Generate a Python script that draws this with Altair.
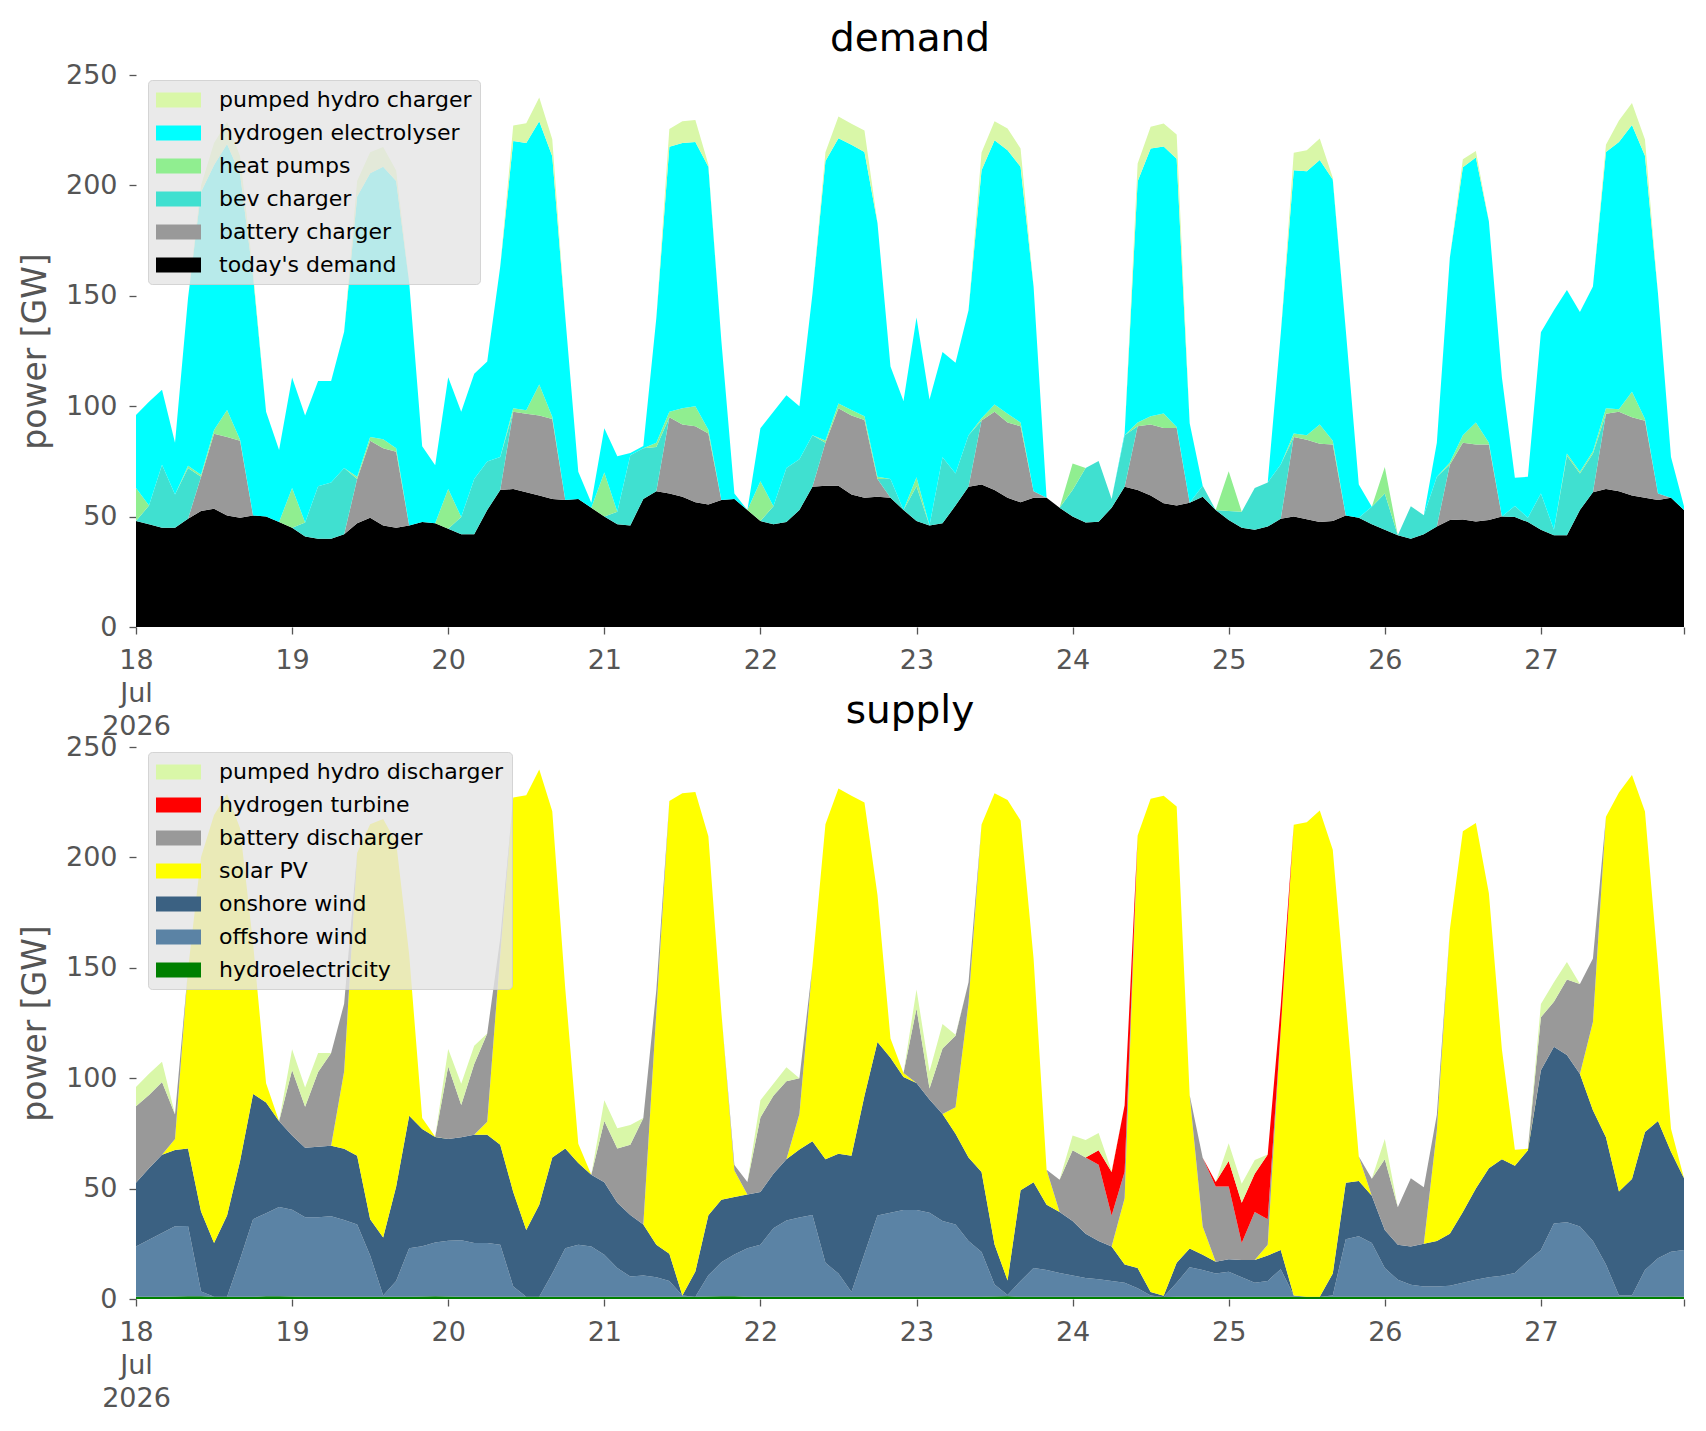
import json

import altair as alt
import pandas as pd

FONT = "DejaVu Sans"
GREY = "#555555"

# 2-hourly samples, 18 Jul 2026 00:00 .. 27 Jul 2026 22:00 (hours since start)
hours = list(range(0, 240, 2))

tick_hours = [0, 24, 48, 72, 96, 120, 144, 168, 192, 216, 238]
tick_labels = [["18", "Jul", "2026"], "19", "20", "21", "22", "23", "24", "25", "26", "27", ""]

# ---------------- demand side [GW] ----------------
todays_demand = [
    48, 46.5, 45, 45, 49, 52.5, 53.5, 50.5, 49.5, 50.5, 50, 47.5,
    45, 41, 40, 40, 42, 47, 49.5, 46, 45, 46, 47.5, 47,
    44.5, 42, 42, 53, 62, 62.5, 61, 59.5, 58, 57.5, 58, 54,
    50, 46.5, 46, 58, 61.5, 60.5, 59, 56.5, 55.5, 57.5, 58, 53,
    48, 46.5, 47.5, 53, 63.5, 64, 64, 60, 58.5, 59, 58.5, 53,
    48, 46, 47, 55, 63.5, 64.5, 62, 58.5, 56.5, 58.5, 58.5, 54,
    50, 47.3, 47.7, 54, 63.5, 62, 59.5, 56, 55, 56.3, 59, 53,
    48.5, 45, 44, 45.5, 49, 50, 48.8, 47.5, 48, 50.5, 49.5, 46.5,
    44, 41.5, 40, 42, 45.5, 48.5, 48.7, 47.8, 48.5, 50.1, 49.8, 47.5,
    44, 41.6, 41.6, 53, 61, 62.5, 61.5, 59.5, 58.5, 57.5, 58.5, 53,
]
battery_charger = [
    0, 0, 0, 0, 0, 15.5, 34, 35.5, 34.8, 0, 0, 0,
    0, 0, 0, 0, 0, 20, 34.8, 35, 34.4, 0, 0, 0,
    0, 0, 0, 0, 0, 35, 35.6, 36.3, 36.2, 0, 0, 0,
    0, 0, 0, 0, 0, 34.5, 32.7, 34.4, 32.1, 0, 0, 0,
    0, 0, 0, 0, 0, 19.5, 35.1, 35.8, 35.2, 8, 0, 0,
    0, 0, 0, 0, 0, 29, 35.5, 34.1, 34.4, 3, 0, 0,
    0, 0, 0, 0, 0, 28.9, 32.2, 34.1, 35.1, 0, 0, 0,
    0, 0, 0, 0, 0, 36, 36, 35.5, 34.7, 0, 0, 0,
    0, 0, 0, 0, 0, 25, 34.8, 34.9, 34.2, 0, 0, 0,
    0, 0, 0, 0, 0, 34.1, 36, 35.5, 34.9, 3, 0, 0,
]
bev_charger = [
    0, 8.5, 28.5, 15, 23, 0, 0, 0, 0, 0, 0, 0,
    0, 6.3, 23.8, 25.4, 30, 0, 0, 0, 0, 0, 0, 0,
    0, 7.8, 25, 22, 15, 0, 0, 0, 0, 0, 0, 0,
    0, 5.7, 31.8, 23, 20, 0, 0, 0, 0, 0, 0, 0,
    0, 8.2, 24.5, 23, 23.3, 0, 0, 0, 0, 0, 8.5, 0,
    15.8, 0, 29.9, 14.5, 23.3, 0, 0, 0, 0, 0, 0, 0,
    12, 24.7, 27.5, 4, 23.3, 0, 0, 0, 0, 0, 5, 0,
    4, 7.2, 19, 20, 24.6, 0, 0, 0, 0, 0, 0, 8,
    16.5, 0, 14.7, 8.6, 22.5, 0, 0, 0, 0, 0, 5, 2,
    16.5, 2.4, 36, 16.5, 17.6, 0, 0, 0, 0, 0, 0, 0,
]
heat_pumps = [
    15, 0, 0, 0, 1, 1, 1.7, 12.3, 0.5, 0, 0, 0,
    18, 0, 0, 0, 0, 1, 1.7, 4, 1.6, 0, 0, 0,
    18, 0, 0, 0, 0, 1.6, 1.6, 14, 1, 0, 0, 0,
    20, 0, 0, 0, 2, 2.5, 7.4, 9.1, 1.7, 0, 0, 0,
    18, 0, 0, 0, 0, 1, 2.1, 2.5, 1.7, 1, 0, 0,
    4, 0, 0, 0, 0, 1, 3.3, 4, 1.7, 0, 0, 0,
    12, 0, 0, 0, 0, 1.7, 3.7, 6.6, 0.5, 0, 0, 0,
    18, 0, 0, 0, 0, 1.6, 2, 8.7, 1.6, 0, 0, 0,
    12, 0, 0, 0, 0, 1, 3.3, 9.9, 0.8, 0, 0, 0,
    0, 0, 1, 0.8, 1, 2.5, 1.1, 11.5, 0.8, 0, 0, 0,
]
hydrogen_electrolyser = [
    33, 47, 34, 23.5, 76, 128, 120, 120.4, 120.4, 108.5, 47.5, 32.7,
    50, 48.5, 47.6, 46, 61.7, 127, 119.5, 123.4, 121, 110, 34.4, 26.3,
    50.6, 47.7, 47.7, 45.3, 86.3, 121, 121, 119.2, 118, 83, 12.3, 2.3,
    20, 25.1, 1, 1, 56.5, 120, 120.1, 119.7, 119.2, 72, 2.5, 0,
    24, 42.8, 33, 24, 64, 126.5, 120.1, 120.1, 119.7, 115, 51, 49.4,
    72.4, 57, 47.7, 50.2, 56.7, 112.4, 119.6, 119.3, 115.9, 92.7, 0, 0,
    0, 0, 0, 0, 1, 109.3, 121.3, 120.9, 121.5, 36, 0, 0,
    0, 0, 0, 0, 59.2, 119.3, 119.6, 119.8, 118.4, 84, 15, 0,
    0, 0, 0, 0, 15.5, 92.8, 121.4, 120, 100.3, 63, 12.8, 18.5,
    73, 99.5, 74, 72.4, 74.6, 116, 121.1, 120.9, 119.2, 90.5, 18.5, 1.7,
]
pumped_hydro_charger = [
    0, 0, 0, 0, 0, 3, 10, 10, 8, 2, 0, 0,
    0, 0, 0, 0, 0, 7, 9.5, 9, 4.8, 0, 0, 0,
    0, 0, 0, 0, 0, 7, 9, 10.8, 7.7, 0, 0, 0,
    0, 0, 0, 0, 0, 8, 9.8, 9.9, 1, 0, 0, 0,
    0, 0, 0, 0, 0, 4, 9.9, 9.5, 9.8, 0, 0, 0,
    0, 0, 0, 0, 0, 8, 8.6, 9.9, 8.2, 0, 0, 0,
    0, 0, 0, 0, 0, 8, 9.9, 10.4, 11, 0, 0, 0,
    0, 0, 0, 0, 0, 7.9, 9.5, 9.7, 0.8, 0, 0, 0,
    0, 0, 0, 0, 0, 0, 3.6, 3, 0, 0, 0, 0,
    0, 0, 0, 0, 0, 3.3, 9.7, 9.9, 7.4, 0, 0, 0,
]

# ---------------- supply side [GW] ----------------
hydroelectricity = [
    1.0, 1.0, 1.0, 1.1, 1.3, 1.2, 1.0, 1.0, 1.0, 1.0, 1.2, 1.3,
    1.1, 1.0, 1.0, 1.0, 1.0, 1.0, 1.0, 1.0, 1.0, 1.0, 1.1, 1.2,
    1.1, 1.0, 1.0, 1.0, 1.0, 1.0, 1.0, 1.0, 1.0, 1.0, 1.0, 1.0,
    1.0, 1.0, 1.0, 1.0, 1.0, 1.0, 1.0, 1.0, 1.1, 1.2, 1.2, 1.0,
    1.0, 1.0, 1.0, 1.0, 1.0, 1.0, 1.0, 1.0, 1.0, 1.0, 1.0, 1.0,
    1.0, 1.0, 1.0, 1.0, 1.0, 1.0, 1.1, 1.2, 1.0, 1.0, 1.0, 1.0,
    1.0, 1.0, 1.0, 1.0, 1.0, 1.0, 1.0, 0.9, 1.0, 1.0, 1.0, 1.0,
    1.0, 1.0, 1.0, 1.0, 1.0, 1.0, 1.0, 1.0, 1.0, 1.0, 1.0, 1.0,
    1.0, 1.0, 1.0, 1.0, 1.0, 1.0, 1.0, 1.0, 1.0, 1.0, 1.0, 1.0,
    1.0, 1.0, 1.0, 1.0, 1.0, 1.0, 1.0, 1.0, 1.0, 1.0, 1.1, 1.0,
]
offshore_wind = [
    22.8, 25.8, 28.9, 31.8, 31.8, 2.2, 0, 0, 17, 35.1, 37.6, 40.4,
    39.3, 36, 36, 36.5, 34.8, 32.7, 18.7, 0.6, 7.2, 22, 22.8, 24.4,
    25.3, 25.6, 24.4, 24.4, 23.6, 4.7, 0, 0, 10.5, 22, 23.6, 22.8,
    19, 13, 9.2, 9.6, 8.8, 7.2, 0.6, 0, 9.6, 15.4, 19, 22,
    23.6, 31, 34.6, 35.9, 37.1, 15.4, 10.5, 2.2, 19.5, 36.8, 38.1, 39.3,
    39.3, 38.1, 34.3, 32.7, 25.3, 20.3, 5.5, 0.6, 7.2, 13, 12.1, 10.8,
    9.6, 8.5, 8, 7.2, 6.4, 3.9, 0.6, 0, 6.4, 13.4, 12.1, 10.5,
    11.3, 8.8, 6.4, 7.2, 12.5, 0.6, 0, 0, 0.6, 26.1, 27.4, 24.4,
    13, 7.7, 5.5, 4.7, 4.7, 5, 6.4, 7.7, 8.8, 9.5, 10.8, 16.2,
    21.2, 33.2, 33.8, 31.8, 25.3, 14.6, 0.6, 0.6, 12.1, 17.4, 20.3, 21.2,
]
onshore_wind = [
    28.8, 32.4, 35.4, 34.6, 35.1, 36.2, 24.4, 36.8, 44.5, 56.8, 50.2, 38.8,
    33.7, 31.5, 32, 31.9, 32.2, 31.2, 16.4, 26.3, 42.7, 60, 53.1, 47.8,
    46.1, 46.6, 49, 49, 45.3, 42.8, 30.2, 41.7, 52.6, 45.2, 37, 32.5,
    32.9, 29.6, 27.9, 23.1, 14.8, 12.3, 0, 11.5, 27.2, 28.3, 26, 24.3,
    23.9, 24.7, 27.7, 30.8, 33.4, 46.9, 54.3, 61.7, 71.6, 78.6, 70.2, 60.3,
    57.5, 51.3, 48.5, 41.1, 37.8, 36.2, 18.1, 6.6, 41.1, 38.9, 29.6, 27.6,
    24.7, 20.1, 17.3, 15.6, 8.2, 9.1, 1.6, 0.6, 9, 8.5, 6.9, 5.4,
    5.7, 7.9, 10.3, 11.5, 8.7, 0, 0, 0, 9.9, 25.5, 25, 21.4,
    17.2, 15.9, 17.3, 19.3, 20.6, 23.6, 32, 41.4, 49.4, 52.8, 48.5, 50.2,
    81.4, 80.1, 75.7, 69.1, 59.2, 57.6, 47.1, 52.8, 62.5, 62.2, 45.3, 32.5,
]
solar_pv = [
    0, 0, 0, 5, 81.1, 160.6, 193.8, 190.9, 150.7, 68.1, 8.7, 0,
    0, 0, 0, 0, 35, 137.1, 178.9, 189.5, 155.9, 73, 5, 0.1,
    0, 0, 0, 5.9, 86.3, 178.6, 197, 197.1, 156.8, 72.3, 8.7, 0,
    0, 0, 0, 0, 105.4, 205, 227.4, 217.1, 171.7, 84.8, 12, 0,
    0, 0, 0, 16.1, 79.3, 151.7, 165.4, 163, 132.8, 66.6, 8.7, 1.8,
    0, 0, 0, 12, 70, 157.4, 204.4, 217.6, 167.4, 101.3, 15.8, 0,
    0, 0, 0, 0, 30, 195.9, 223.4, 226.4, 206.7, 69.4, 12.8, 0,
    0, 0, 0, 4.9, 100, 213.2, 214.9, 220.2, 192, 81.9, 11.1, 0,
    0, 0, 0, 0, 50, 137.7, 172.4, 165.5, 124.6, 49.8, 7.3, 0.6,
    0, 0, 0, 0, 40, 145.2, 180.7, 182.9, 145.2, 70.4, 10.4, 0,
]
battery_discharger = [
    34.7, 33.2, 33, 11.1, 0, 0, 0, 0, 0, 0, 0, 0,
    29.6, 18.6, 33.8, 42, 30.7, 0, 0, 0, 0, 0, 0, 0,
    32.8, 14.7, 32, 40, 7.1, 0, 0, 0, 0, 0, 0, 0,
    27.7, 24.6, 31.8, 48.3, 10, 0, 0, 0, 0, 0, 2.5, 5.7,
    33.7, 35.3, 35.3, 16.2, 0, 0, 0, 0, 0, 0, 0, 0,
    33.8, 4.9, 29.7, 32.4, 9.4, 0, 0, 0, 0, 0, 0, 14.6,
    32.1, 34.5, 34.5, 14, 12, 0, 0, 0, 0, 0, 31.2, 34,
    32.9, 7.7, 21.7, 11.5, 0, 0, 0, 0, 0, 0, 0, 7.7,
    32.1, 16.9, 30.9, 25.6, 7.2, 0, 0, 0, 0, 0, 0, 0,
    24, 20.3, 34.2, 40.8, 28.7, 0, 0, 0, 0, 0, 0, 0,
]
hydrogen_turbine = [
    0, 0, 0, 0, 0, 0, 0, 0, 0, 0, 0, 0,
    0, 0, 0, 0, 0, 0, 0, 0, 0, 0, 0, 0,
    0, 0, 0, 0, 0, 0, 0, 0, 0, 0, 0, 0,
    0, 0, 0, 0, 0, 0, 0, 0, 0, 0, 0, 0,
    0, 0, 0, 0, 0, 0, 0, 0, 0, 0, 0, 0,
    0, 0, 0, 0, 0, 0, 0, 0, 0, 0, 0, 0,
    0, 0, 6.6, 19.7, 30.2, 0, 0, 0, 0, 0, 0, 2.1,
    11.6, 18.2, 17.3, 29.4, 10.6, 0, 0, 0, 0, 0, 0, 0,
    0, 0, 0, 0, 0, 0, 0, 0, 0, 0, 0, 0,
    0, 0, 0, 0, 0, 0, 0, 0, 0, 0, 0, 0,
]
pumped_hydro_discharger = [
    8.7, 9.6, 9.2, 0, 0, 0, 0, 0, 0, 0, 0, 0,
    9.4, 8.7, 8.6, 0, 0, 0, 0, 0, 0, 0, 0, 0,
    7.9, 9.6, 8.3, 0, 0, 0, 0, 0, 0, 0, 0, 0,
    9.4, 9.1, 8.9, 0, 0, 0, 0, 0, 0, 0, 0, 0,
    7.8, 5.5, 6.4, 0, 0, 0, 0, 0, 0, 0, 0, 0,
    8.6, 7.7, 11.1, 0.5, 0, 0, 0, 0, 0, 0, 0, 0,
    6.6, 7.9, 7.8, 0.5, 0, 0, 0, 0, 0, 0, 0, 0,
    8, 8.6, 6.3, 0, 0, 0, 0, 0, 0, 0, 0, 0,
    9.2, 0, 0, 0, 0, 0, 0, 0, 0, 0, 0, 0,
    6, 8.9, 7.9, 0, 0, 0, 0, 0, 0, 0, 0, 0,
]

# stack order: first entry at the bottom
demand = {
    "today's demand": (todays_demand, "#000000"),
    "battery charger": (battery_charger, "#999999"),
    "bev charger": (bev_charger, "#40e0d0"),
    "heat pumps": (heat_pumps, "#90ee90"),
    "hydrogen electrolyser": (hydrogen_electrolyser, "#00ffff"),
    "pumped hydro charger": (pumped_hydro_charger, "#d9f7a8"),
}
supply = {
    "hydroelectricity": (hydroelectricity, "#008000"),
    "offshore wind": (offshore_wind, "#5b83a5"),
    "onshore wind": (onshore_wind, "#3b6182"),
    "solar PV": (solar_pv, "#ffff00"),
    "battery discharger": (battery_discharger, "#999999"),
    "hydrogen turbine": (hydrogen_turbine, "#ff0000"),
    "pumped hydro discharger": (pumped_hydro_discharger, "#d9f7a8"),
}


def stacked_panel(title: str, series: dict) -> alt.Chart:
    rows = []
    for level, (name, (values, _)) in enumerate(series.items()):
        assert len(values) == len(hours), name
        for h, v in zip(hours, values):
            rows.append({"hour": h, "carrier": name, "value": v, "level": level})
    df = pd.DataFrame(rows)

    legend_order = list(series)[::-1]
    colors = [series[n][1] for n in legend_order]

    return (
        alt.Chart(df, title=alt.Title(
            title, fontSize=39, fontWeight="normal", color="black", font=FONT,
            anchor="middle", frame="group", baseline="alphabetic", offset=-29))
        .mark_area(interpolate="linear", opacity=1)
        .encode(
            x=alt.X("hour:Q",
                    scale=alt.Scale(domain=[0, 238], nice=False, zero=False),
                    axis=alt.Axis(values=tick_hours,
                                  labelExpr=f"{json.dumps(tick_labels)}[indexof({json.dumps(tick_hours)}, datum.value)]",
                                  title=None, labelFlush=False, labelOverlap=False,
                                  labelBaseline="top", labelLineHeight=33, labelPadding=13,
                                  tickSize=7, tickWidth=1.3)),
            y=alt.Y("value:Q", stack="zero",
                    scale=alt.Scale(domain=[0, 250], nice=False),
                    axis=alt.Axis(values=[0, 50, 100, 150, 200, 250], title="power [GW]",
                                  titlePadding=13, labelPadding=12, tickSize=7, tickWidth=1.3)),
            color=alt.Color("carrier:N",
                            scale=alt.Scale(domain=legend_order, range=colors),
                            legend=alt.Legend(
                                title=None, orient="none", legendX=12, legendY=5,
                                fillColor="rgba(229,229,229,0.8)",
                                strokeColor="rgba(204,204,204,0.8)", cornerRadius=4,
                                padding=8, rowPadding=10,
                                symbolType="M-1,-0.625H2.75V0.625H-1Z", symbolSize=576,
                                symbolStrokeWidth=0, symbolOpacity=1,
                                labelOffset=39, labelFontSize=22, labelColor="black",
                                labelFont=FONT, labelLimit=500)),
            order=alt.Order("level:Q", sort="ascending"),
        )
        .properties(width=1548, height=552)
    )


chart = (
    alt.vconcat(stacked_panel("demand", demand), stacked_panel("supply", supply),
                spacing=120, bounds="flush",
                padding={"left": 11, "top": 12, "right": 5, "bottom": 5})
    .resolve_scale(color="independent")
    .configure(font=FONT, background="white")
    .configure_view(strokeWidth=0)
    .configure_axis(grid=False, domain=False, labelFont=FONT, titleFont=FONT,
                    labelFontSize=27, labelColor=GREY, tickColor=GREY,
                    titleFontSize=33, titleColor=GREY, titleFontWeight="normal")
)

chart.save("out.html", embed_options={"renderer": "svg", "actions": False})
